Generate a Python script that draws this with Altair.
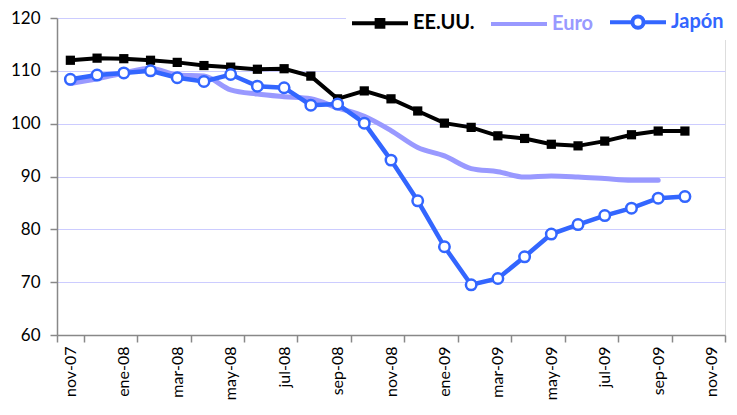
import altair as alt
import pandas as pd

meses = ["nov-07", "dic-07", "ene-08", "feb-08", "mar-08", "abr-08", "may-08",
         "jun-08", "jul-08", "ago-08", "sep-08", "oct-08", "nov-08", "dic-08",
         "ene-09", "feb-09", "mar-09", "abr-09", "may-09", "jun-09", "jul-09",
         "ago-09", "sep-09", "oct-09", "nov-09"]
etiquetas = meses[::2]

series = ["EE.UU.", "Euro", "Japón"]
colores = ["#000000", "#9999FF", "#3366FF"]

eeuu = [112.0, 112.4, 112.3, 112.0, 111.6, 111.0, 110.7, 110.3, 110.4, 109.0,
        104.7, 106.2, 104.7, 102.4, 100.1, 99.3, 97.7, 97.2, 96.1, 95.8,
        96.7, 97.9, 98.6, 98.6]
euro = [107.6, 108.5, 109.6, 110.5, 109.2, 109.0, 106.4, 105.6, 105.1, 104.7,
        103.0, 101.4, 98.7, 95.5, 93.9, 91.5, 90.9, 89.9, 90.1, 89.9,
        89.6, 89.3, 89.3]
japon = [108.4, 109.2, 109.6, 110.0, 108.7, 108.0, 109.3, 107.1, 106.8, 103.5,
         103.7, 100.1, 93.1, 85.4, 76.7, 69.5, 70.7, 74.8, 79.1, 80.9,
         82.6, 84.0, 85.9, 86.2]

rows = []
for nombre, vals in zip(series, [eeuu, euro, japon]):
    for i, v in enumerate(vals):
        rows.append({"mes": meses[i], "serie": nombre, "valor": v})
df = pd.DataFrame(rows)

FONT = "Lato"

x = alt.X("mes:O", sort=meses, bandPosition=0.5,
          scale=alt.Scale(type="band", domain=meses, paddingInner=0, paddingOuter=0),
          axis=alt.Axis(title=None, values=etiquetas, labelAngle=-90, tickBand="extent",
                        labelFont=FONT, labelFontSize=16, labelColor="#000000",
                        labelPadding=4, tickSize=7, tickColor="#888888", tickWidth=1.5,
                        domainColor="#888888", domainWidth=1.5, grid=False))
y = alt.Y("valor:Q", scale=alt.Scale(domain=[60, 120], nice=False, zero=False),
          axis=alt.Axis(title=None, values=[60, 70, 80, 90, 100, 110, 120],
                        labelFont=FONT, labelFontSize=17, labelColor="#000000",
                        labelPadding=10, tickSize=7, tickColor="#888888", tickWidth=1.5,
                        domainColor="#888888", domainWidth=1.5,
                        grid=True, gridColor="#CCCCFF", gridWidth=1))

base = alt.Chart(df)

euro_line = base.transform_filter(alt.datum.serie == "Euro").mark_line(
    interpolate="monotone", strokeWidth=5, strokeCap="round").encode(
    x=x, y=y, color=alt.value(colores[1]))

eeuu_line = base.transform_filter(alt.datum.serie == "EE.UU.").mark_line(
    strokeWidth=4).encode(x=x, y=y, color=alt.value(colores[0]))
eeuu_pts = base.transform_filter(alt.datum.serie == "EE.UU.").mark_square(
    size=85, opacity=1).encode(x=x, y=y, color=alt.value(colores[0]))

jap_line = base.transform_filter(alt.datum.serie == "Japón").mark_line(
    strokeWidth=4.5).encode(x=x, y=y, color=alt.value(colores[2]))
jap_pts = base.transform_filter(alt.datum.serie == "Japón").mark_point(
    shape="circle", size=110, filled=False, fill="white", fillOpacity=1,
    strokeWidth=2.5, opacity=1).encode(x=x, y=y, color=alt.value(colores[2]))

# legend symbols: line with square / plain line / line with open circle
simbolos = [
    "M-1,0H1M-0.12,-0.12H0.12V0.12H-0.12Z",
    "M-1,0H1",
    "M-1,0H-0.2M0.2,0H1M0.2,0A0.2,0.2 0 1 1 -0.2,0A0.2,0.2 0 1 1 0.2,0",
]
rellenos = ["#000000", "transparent", "#FFFFFF"]

leyenda = alt.Legend(
    title=None, orient="none", legendX=289, legendY=-30, direction="horizontal",
    symbolSize=3136, symbolStrokeWidth=4, symbolOpacity=1,
    labelFont=FONT, labelFontSize=20, labelFontWeight="bold", labelOffset=3,
    labelColor={"expr": "datum.value == 'Euro' ? '#9999FF' : (datum.value == 'Japón' ? '#3366FF' : '#000000')"},
    columnPadding=8, fillColor="white", padding=4,
)

legend_layer = base.transform_filter("false").mark_point(opacity=1, filled=False).encode(
    x=x, y=y,
    stroke=alt.Stroke("serie:N", scale=alt.Scale(domain=series, range=colores), legend=leyenda),
    shape=alt.Shape("serie:N", scale=alt.Scale(domain=series, range=simbolos), legend=leyenda),
    fill=alt.Fill("serie:N", scale=alt.Scale(domain=series, range=rellenos), legend=leyenda),
)

chart = alt.layer(euro_line, eeuu_line, eeuu_pts, jap_line, jap_pts, legend_layer).properties(
    width=668, height=317,
    autosize=alt.AutoSizeParams(type="none"),
    padding={"left": 49, "top": 10, "right": 4, "bottom": 66},
).configure_view(stroke=None).configure(background="white")

chart.save("out.html", embed_options={"renderer": "svg", "actions": False})
